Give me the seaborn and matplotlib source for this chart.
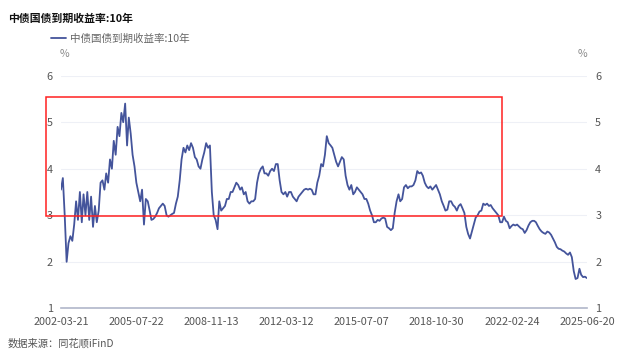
import numpy as np
import pandas as pd
import matplotlib
matplotlib.use('Agg')
from matplotlib import pyplot as plt
from matplotlib.patches import Rectangle
import seaborn as sns

# monthly readings of the 10y CGB yield, Mar 2002 .. Jun 2025
y2002 = [3.55, 3.8, 3.0, 2.0, 2.4, 2.55, 2.45, 2.8, 3.3, 2.9]
y2003 = [3.5, 2.85, 3.45, 3.0, 3.5, 2.9, 3.4, 2.75, 3.2, 2.85, 3.1, 3.7]
y2004 = [3.75, 3.55, 3.9, 3.7, 4.2, 4.0, 4.6, 4.3, 4.9, 4.7, 5.2, 5.0]
y2005 = [5.4, 4.5, 5.1, 4.75, 4.3, 4.05, 3.7, 3.5, 3.3, 3.55, 2.8, 3.35]
y2006 = [3.3, 3.1, 2.9, 2.92, 2.97, 3.05, 3.15, 3.2, 3.25, 3.2, 3.0, 2.97]
y2007 = [3.0, 3.03, 3.05, 3.25, 3.4, 3.75, 4.2, 4.45, 4.35, 4.5, 4.4, 4.55]
y2008 = [4.45, 4.25, 4.2, 4.05, 4.0, 4.2, 4.35, 4.55, 4.45, 4.5, 3.5, 3.0]
y2009 = [2.9, 2.7, 3.3, 3.1, 3.15, 3.2, 3.35, 3.35, 3.5, 3.5, 3.6, 3.7]
y2010 = [3.65, 3.55, 3.6, 3.45, 3.5, 3.3, 3.25, 3.3, 3.3, 3.35, 3.7, 3.9]
y2011 = [4.0, 4.05, 3.9, 3.9, 3.85, 3.95, 4.0, 3.95, 4.1, 4.1, 3.75, 3.5]
y2012 = [3.45, 3.5, 3.4, 3.5, 3.5, 3.4, 3.35, 3.3, 3.4, 3.45, 3.5, 3.55]
y2013 = [3.57, 3.55, 3.57, 3.55, 3.45, 3.45, 3.7, 3.85, 4.1, 4.05, 4.3, 4.7]
y2014 = [4.55, 4.5, 4.45, 4.3, 4.15, 4.05, 4.15, 4.25, 4.2, 3.85, 3.65, 3.55]
y2015 = [3.65, 3.45, 3.5, 3.6, 3.55, 3.5, 3.45, 3.35, 3.35, 3.25, 3.1, 3.0]
y2016 = [2.85, 2.85, 2.9, 2.88, 2.93, 2.95, 2.93, 2.75, 2.72, 2.68, 2.72, 3.05]
y2017 = [3.3, 3.45, 3.3, 3.35, 3.6, 3.65, 3.58, 3.62, 3.62, 3.65, 3.75, 3.95]
y2018 = [3.9, 3.92, 3.85, 3.7, 3.62, 3.58, 3.62, 3.55, 3.6, 3.65, 3.55, 3.45]
y2019 = [3.3, 3.2, 3.1, 3.12, 3.3, 3.3, 3.22, 3.18, 3.1, 3.2, 3.24, 3.15]
y2020 = [3.05, 2.75, 2.6, 2.5, 2.65, 2.8, 2.95, 3.0, 3.08, 3.1, 3.25, 3.22]
y2021 = [3.25, 3.2, 3.22, 3.15, 3.1, 3.05, 3.0, 2.85, 2.85, 2.97, 2.88, 2.85]
y2022 = [2.72, 2.77, 2.8, 2.78, 2.8, 2.76, 2.72, 2.7, 2.62, 2.68, 2.78, 2.85]
y2023 = [2.88, 2.88, 2.85, 2.77, 2.7, 2.65, 2.62, 2.6, 2.65, 2.63, 2.58, 2.5]
y2024 = [2.42, 2.32, 2.28, 2.27, 2.24, 2.22, 2.18, 2.15, 2.2, 2.1, 1.8, 1.63]
y2025 = [1.65, 1.85, 1.72, 1.67, 1.68, 1.65]

yields = (y2002 + y2003 + y2004 + y2005 + y2006 + y2007 + y2008 + y2009 + y2010
          + y2011 + y2012 + y2013 + y2014 + y2015 + y2016 + y2017 + y2018
          + y2019 + y2020 + y2021 + y2022 + y2023 + y2024 + y2025)
dates = pd.date_range('2002-03-01', '2025-06-01', freq='MS') + pd.Timedelta(days=19)

tick_dates = ['2002-03-21', '2005-07-22', '2008-11-13', '2012-03-12',
              '2015-07-07', '2018-10-30', '2022-02-24', '2025-06-20']
y_ticks = [1, 2, 3, 4, 5, 6]

title = '中债国债到期收益率:10年'
series_name = '中债国债到期收益率:10年'
source = '数据来源：同花顺iFinD'

df = pd.DataFrame({'date': dates, 'value': yields})

sns.set_style('white')
plt.rcParams['font.family'] = ['Noto Sans CJK SC', 'DejaVu Sans']

fig = plt.figure(figsize=(6.4, 3.58), dpi=100)
ax = fig.add_axes([0.0953, 0.1388, 0.8217, 0.6498])

line_color = '#44549b'
sns.lineplot(data=df, x='date', y='value', ax=ax, color=line_color,
             linewidth=1.3, label=series_name, legend=False)

ax.set_xlim(pd.Timestamp(tick_dates[0]), pd.Timestamp(tick_dates[-1]))
ax.set_ylim(1, 6)
ax.set_xticks([pd.Timestamp(d) for d in tick_dates])
ax.set_xticklabels(tick_dates)
ax.set_yticks(y_ticks)
ax.set_yticklabels([str(v) for v in y_ticks])
ax.set_xlabel('')
ax.set_ylabel('')

for v in y_ticks[1:]:
    ax.axhline(v, color='#eef0f6', linewidth=0.8, zorder=0)

for s in ['top', 'left', 'right']:
    ax.spines[s].set_visible(False)
ax.spines['bottom'].set_color('#b0b6c9')
ax.spines['bottom'].set_linewidth(1.2)

ax.tick_params(axis='both', length=0, labelsize=7.8, colors='#555555')
ax.tick_params(axis='x', pad=6)
ax.tick_params(axis='y', pad=6, labelright=True, labelleft=True)

# red highlight box
rect = Rectangle((-0.029, 0.398), 0.867, 0.512, transform=ax.transAxes,
                 fill=False, edgecolor='#ff2020', linewidth=1.1, clip_on=False, zorder=5)
ax.add_patch(rect)

# legend
handles, labels = ax.get_legend_handles_labels()
fig.legend(handles, labels, loc='center left', bbox_to_anchor=(51 / 640, 1 - 39 / 358),
           frameon=False, fontsize=7.6, handlelength=1.4, handletextpad=0.4,
           borderaxespad=0, borderpad=0, labelcolor='#666666')

fig.text(8 / 640, 1 - 19 / 358, title, fontsize=7.8, fontweight='bold',
         va='center', ha='left', color='#111111')
fig.text(64 / 640, 1 - 54 / 358, '%', fontsize=7.6, color='#888888', va='center', ha='center')
fig.text(582 / 640, 1 - 54 / 358, '%', fontsize=7.6, color='#888888', va='center', ha='center')
fig.text(8 / 640, 1 - 344 / 358, source, fontsize=7.4, color='#555555', va='center', ha='left')

fig.savefig('out.png', dpi=100)
